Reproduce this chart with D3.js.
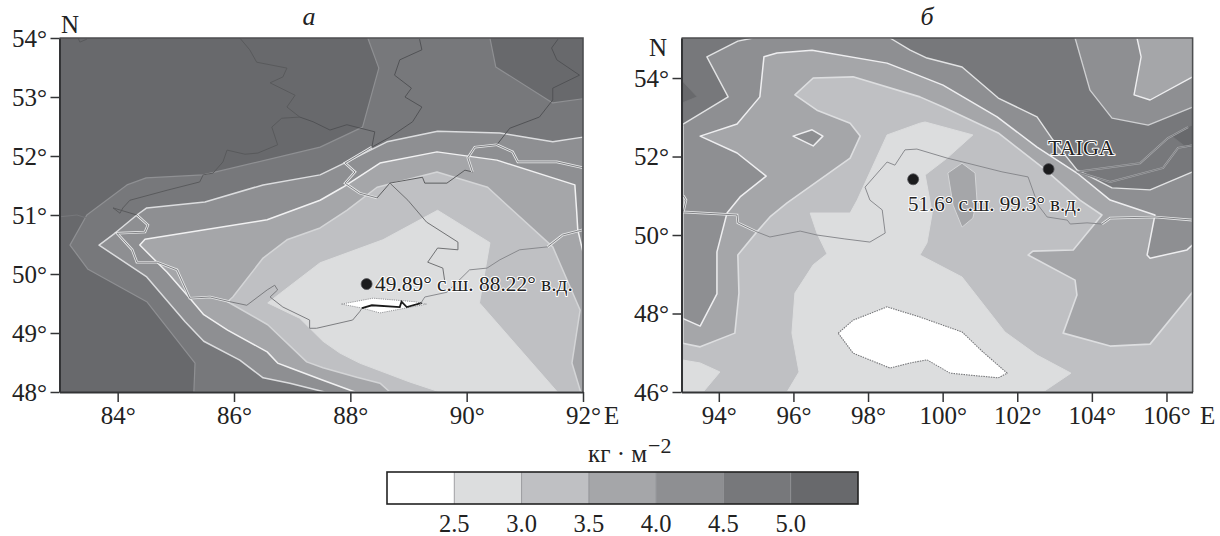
<!DOCTYPE html>
<html><head><meta charset="utf-8">
<script src="https://cdn.jsdelivr.net/npm/d3@7/dist/d3.min.js"></script>
<style>html,body{margin:0;padding:0;background:#fff}svg{display:block}text{font-family:"Liberation Serif",serif;fill:#222}</style>
</head><body><div id="chart"></div>
<script>
// ---------- levels / colours (kg m-2) ----------
const levelThresholds=[2.5,3.0,3.5,4.0,4.5,5.0];
const levelColors=["#ffffff","#dcddde","#bfc0c3","#a5a6a9","#8e8f92","#77787b","#68696c"];
const legendEdges=[2.0,2.5,3.0,3.5,4.0,4.5,5.0,5.5];
const legendTicks=[2.5,3.0,3.5,4.0,4.5,5.0];

// ---------- panel a: contour polygons [lon,lat] ----------
const aBand45=[[85.31,48],[85.33,48.49],[84.50,49.53],[83.49,50.08],[83.18,50.49],[83.47,51.00],[84.16,51.51],[84.49,51.63],[85.47,51.68],[87.48,52.15],[88.21,52.49],[88.49,53.49],[88.30,54],[90.40,54],[90.50,53.51],[91.48,52.90],[92,52.97],[92,48]];
const aBand40=[[87.56,48],[86.96,48.15],[86.50,48.24],[86.10,48.54],[85.48,48.86],[85.16,49.19],[84.50,49.95],[83.68,50.49],[83.95,50.69],[84.33,51.00],[84.50,51.12],[85.50,51.22],[86.50,51.51],[87.48,51.68],[87.94,51.90],[88.63,52.24],[89.50,52.42],[90.57,52.39],[91.48,52.24],[92,52.32],[92,48]];
const aBand35=[[88.08,48],[87.53,48.20],[86.96,48.41],[86.75,48.49],[86.57,48.68],[85.89,49.05],[85.48,49.31],[85.24,49.59],[84.85,50.03],[84.38,50.49],[84.47,50.59],[86.57,50.92],[87.48,51.25],[87.87,51.47],[88.51,51.88],[89.49,52.07],[90.52,51.93],[91.86,51.51],[91.89,51.08],[91.91,50.75],[92,50.37],[92,48]];
const aBand30=[[88.68,48],[88.51,48.15],[88.11,48.25],[87.53,48.41],[87.25,48.51],[86.58,49.14],[85.89,49.53],[85.98,49.61],[86.50,50.27],[86.91,50.58],[87.48,50.78],[87.94,51.08],[88.46,51.47],[89.49,51.73],[90.36,51.47],[90.79,51.08],[91.48,50.46],[91.95,49.39],[91.81,48.49],[91.96,48]];
const aBand25=[[87.48,50.19],[86.58,49.51],[87.13,49.25],[87.53,48.86],[87.82,48.66],[88.16,48.49],[89.02,48.17],[89.54,48],[91.56,48],[90.22,49.51],[90.40,50.53],[89.50,51.08],[88.56,50.58]];
const aBand20=[[87.85,49.49],[88.39,49.59],[89.11,49.53],[89.31,49.49],[88.51,49.34],[88.21,49.42]];

// ---------- panel a: borders [lon,lat] ----------
const aBorderNorth=[[86.10,54],[86.27,53.80],[86.39,53.59],[86.91,53.49],[86.84,53.34],[86.62,53.24],[87.05,53.03],[86.91,52.83],[87.13,52.66],[86.82,52.64],[86.65,52.49],[86.75,52.19],[86.41,52.05],[86.19,52.03],[85.88,52.10],[85.81,51.90],[85.64,51.71],[85.47,51.68],[85.41,51.56],[84.85,51.42],[84.21,51.25],[84.09,51.12],[84.04,51.03],[83.92,51.12],[84.33,51.00]];
const aBorderCorner=[[83.32,54],[83.35,53.93],[83.47,53.98]];
const aBorderWest=[[83.01,50.97],[83.30,51.00],[83.70,50.88],[83.99,50.75]];
const aBorderDoubleWest=[[84.33,51.00],[84.52,50.83],[84.47,50.71],[83.99,50.69],[84.25,50.41],[84.33,50.20],[84.68,50.20],[85.02,50.07],[85.24,49.59],[85.59,49.61],[85.93,49.53]];
const aBorderSouth=[[85.93,49.53],[86.22,49.47],[86.57,49.73],[86.70,49.81],[86.75,49.73],[86.62,49.61],[86.84,49.44],[87.30,49.22],[87.30,49.08],[87.42,49.08],[88.04,49.22],[88.16,49.36],[88.20,49.42]];
const aBorderLake=[[88.20,49.42],[88.37,49.47],[88.85,49.44],[88.88,49.53],[88.97,49.44],[89.23,49.51]];
const aBorderEast=[[89.19,49.47],[89.28,49.61],[89.66,49.69],[90.05,50.07],[90.35,50.10],[90.57,50.24],[90.91,50.41],[91.39,50.46],[91.65,50.66]];
const aBorderDoubleEast=[[91.39,50.46],[91.65,50.66],[92,50.75]];
const aBorderAltaiN=[[89.19,53.98],[89.23,53.80],[88.85,53.63],[88.76,53.37],[89.05,53.15],[88.94,53.00],[89.23,52.83],[89.07,52.58],[88.68,52.32],[88.37,52.15]];
const aBorderTop=[[87.13,52.66],[87.36,52.58],[87.65,52.44],[87.94,52.53],[88.42,52.41],[88.37,52.15]];
const aBorderDoubleMid=[[88.37,52.15],[87.91,51.88],[88.08,51.73],[87.91,51.54],[88.16,51.37],[88.46,51.29]];
const aBorderMid=[[88.46,51.29],[88.68,51.54],[89.24,51.64],[89.28,51.54],[89.66,51.54],[89.97,51.76],[90.10,51.73]];
const aBorderDoubleNE=[[90.10,51.73],[90.02,51.97],[90.14,52.15],[90.52,52.19]];
const aBorderNE=[[90.52,52.19],[90.74,52.47],[91.25,52.66],[91.48,52.95],[91.48,53.15],[91.94,53.37],[91.55,53.63],[91.46,53.83],[91.57,53.98]];
const aBorderDoubleE=[[90.52,52.19],[90.79,52.07],[90.88,51.90],[91.55,51.90],[92,51.80]];
const aBorderInner=[[88.68,51.54],[88.99,51.25],[89.31,50.88],[89.85,50.54],[89.85,50.41],[89.50,50.44],[89.33,50.20],[89.59,50.10],[89.62,49.90]];
const aStation=[88.28,49.83];

// ---------- panel b: contour polygons [lon,lat] ----------
const bBand50W=[[93,53.95],[93.42,53.52],[93,53.36]];
const bBand50E=[[106.10,52.55],[106.55,52.75],[106.70,52.80],[106.70,52.24],[106.55,52.22]];
const bBand40=[[93,52.80],[94.25,53.52],[93.68,54.54],[94.51,54.94],[94.92,55.02],[98.59,55.02],[99.13,54.71],[99.58,54.51],[100.52,54.28],[101.49,53.49],[102.53,53.01],[102.96,52.42],[103.60,51.66],[104.54,51.20],[105.56,51.15],[106.70,51.61],[106.70,46],[93,46]];
const bBand35=[[93,47.89],[93.50,47.68],[93.95,48.50],[93.95,49.57],[94.22,50.56],[94.57,50.97],[95.27,51.50],[94.49,52.09],[93.50,52.52],[94.49,52.83],[95.10,53.52],[95.21,54.54],[95.56,54.64],[96.50,54.71],[98.51,54.38],[99.13,54.15],[100.01,53.82],[101.46,53.01],[102.53,52.24],[103.60,51.58],[104.49,50.89],[105.69,50.51],[105.48,49.49],[105.56,49.41],[106.55,49.62],[106.70,49.75],[106.70,46],[93,46]];
const bIsland40=[[95.99,52.52],[96.50,52.68],[96.79,52.52],[96.53,52.27]];
const bBand30=[[93,47.25],[93.50,47.15],[94.43,47.50],[94.54,48.52],[94.51,49.49],[95.02,50.08],[95.37,50.46],[95.83,50.82],[97.52,51.96],[97.79,52.52],[97.52,52.85],[96.63,53.18],[96.04,53.57],[96.53,54.00],[97.60,54.03],[99.39,53.52],[100.01,53.26],[101.49,52.60],[102.69,51.71],[103.68,50.89],[104.27,50.51],[103.50,49.62],[102.42,49.59],[102.29,49.49],[103.55,48.85],[103.60,48.47],[103.23,47.50],[104.49,47.17],[105.56,47.22],[106.70,48.55],[106.70,46],[93,46]];
const bIsland35=[[100.14,51.58],[100.52,51.83],[100.87,51.58],[100.92,50.89],[100.81,50.43],[100.52,50.20],[100.28,50.76]];
const bBand25=[[96.45,50.56],[97.52,50.56],[97.71,50.89],[98.51,52.55],[99.39,52.85],[99.53,52.88],[100.81,52.55],[100.12,51.96],[99.53,51.53],[99.72,50.56],[99.58,49.80],[99.39,49.49],[100.52,48.93],[101.67,47.53],[102.53,46.94],[103.44,46.48],[102.69,46],[95.83,46],[96.15,46.51],[95.96,47.50],[96.04,48.52],[96.53,49.24],[96.90,49.52],[96.63,50.05]];
const bPatch25=[[93,46.82],[93.50,46.74],[94.03,46.51],[93.58,46],[93,46]];
const bLake=[[97.20,47.50],[97.60,47.83],[98.51,48.17],[99.39,47.91],[100.52,47.53],[101.08,47.02],[101.73,46.48],[101.49,46.36],[100.20,46.48],[99.58,46.82],[99.13,46.74],[98.59,46.61],[97.60,46.99]];
const bTopRight40=[[103.55,55.02],[103.95,53.69],[104.54,52.98],[105.51,52.80],[106.70,53.26],[106.70,55.02]];
const bTopRight35=[[105.21,55.02],[105.32,54.54],[105.13,53.57],[105.56,53.44],[106.70,54.03],[106.70,55.02]];

// ---------- panel b: borders / thin contours ----------
const bBorderDoubleW=[[93,50.59],[94.49,50.51],[94.51,50.31],[95.02,50.08]];
const bBorderEdge=[[93.05,50.6],[93.12,50.89],[93.05,51.0]];
const bEdgeContour=[[93.04,52.80],[93.04,47.25]];
const bBorderMain=[[95.02,50.08],[95.37,49.95],[96.18,50.10],[96.63,50.00],[97.38,49.90],[98.05,49.82],[98.46,50.05],[98.38,50.64],[98.05,50.89],[97.92,51.22],[98.51,51.86],[98.72,51.78],[98.99,52.17],[99.31,52.19],[100.12,51.96],[101.59,51.61],[102.29,51.48],[102.56,50.76],[102.80,50.46],[103.34,50.38],[103.42,50.28],[103.87,50.31],[104.27,50.28]];
const bBorderDoubleE=[[104.27,50.28],[104.49,50.43],[105.69,50.46],[106.70,50.38]];
const bThinA=[[103.60,51.61],[105.29,51.83],[106.04,52.47],[106.58,52.75]];
const bThinB=[[103.60,51.61],[104.49,51.35],[105.91,51.71],[106.31,52.22],[106.71,52.29]];
const bStation=[99.21,51.42];
const bTaiga=[102.84,51.68];

// ---------- axes / text ----------
const aLonTicks=[84,86,88,90,92], aLatTicks=[48,49,50,51,52,53,54];
const bLonTicks=[94,96,98,100,102,104,106], bLatTicks=[46,48,50,52,54];
const aLabel="49.89° с.ш. 88.22° в.д.", bLabel="51.6° с.ш. 99.3° в.д.", taigaLabel="TAIGA";

const W=1220,H=536;
const svg=d3.select("#chart").append("svg").attr("width",W).attr("height",H);
const colour=d3.scaleThreshold().domain(levelThresholds).range(levelColors);

function panel(id,xs,ys,baseLevel,layers,borders,lonT,latT){
  const g=svg.append("g");
  const line=d3.line().x(d=>xs(d[0])).y(d=>ys(d[1]));
  const clip="clip"+id;
  svg.append("clipPath").attr("id",clip).append("rect")
    .attr("x",xs.range()[0]).attr("y",ys.range()[1])
    .attr("width",xs.range()[1]-xs.range()[0]).attr("height",ys.range()[0]-ys.range()[1]);
  const c=g.append("g").attr("clip-path",`url(#${clip})`);
  const m=c.append("g").style("filter","blur(0.4px)");
  m.append("rect").attr("x",xs.range()[0]-3).attr("y",ys.range()[1]-3)
    .attr("width",xs.range()[1]-xs.range()[0]+6).attr("height",ys.range()[0]-ys.range()[1]+6)
    .attr("fill",colour(baseLevel));
  m.selectAll("path.band").data(layers).join("path").attr("class","band")
    .attr("d",d=>line(d.pts)+"Z").attr("fill",d=>colour(d.level))
    .attr("stroke",d=>d.edge).attr("stroke-width",d=>d.w).attr("stroke-linejoin","round")
    .attr("stroke-dasharray",d=>d.dash||null);
  borders.forEach(b=>{
    if(b.kind==="double"){
      m.append("path").attr("d",line(b.pts)).attr("fill","none").attr("stroke","#e6e7e8").attr("stroke-width",2.6);
      m.append("path").attr("d",line(b.pts)).attr("fill","none").attr("stroke","#76777a").attr("stroke-width",0.9);
    }else if(b.kind==="thin"){
      m.append("path").attr("d",line(b.pts)).attr("fill","none").attr("stroke","#a8a9ac").attr("stroke-width",2);
      m.append("path").attr("d",line(b.pts)).attr("fill","none").attr("stroke","#6c6d70").attr("stroke-width",0.7);
    }else if(b.kind==="lake"){
      m.append("path").attr("d",line(b.pts)).attr("fill","none").attr("stroke","#1a1a1a").attr("stroke-width",1.8);
    }else if(b.kind==="edge"){
      m.append("path").attr("d",line(b.pts)).attr("fill","none").attr("stroke","#dedfe0").attr("stroke-width",1.4);
    }else{
      m.append("path").attr("d",line(b.pts)).attr("fill","none").attr("stroke",b.colour||"#57585b").attr("stroke-width",0.95);
    }
  });
  // frame
  g.append("path").attr("d",d3.line()([[xs.range()[0],ys.range()[1]],[xs.range()[1],ys.range()[1]],[xs.range()[1],ys.range()[0]]]))
    .attr("fill","none").attr("stroke","#4d4e50").attr("stroke-width",1.6);
  const fmt=d=>d+"°";
  const ax=g.append("g").attr("transform",`translate(0,${ys.range()[0]})`)
    .call(d3.axisBottom(xs).tickValues(lonT).tickFormat(fmt).tickSize(10).tickPadding(4).tickSizeOuter(0));
  const ay=g.append("g").attr("transform",`translate(${xs.range()[0]},0)`)
    .call(d3.axisLeft(ys).tickValues(latT).tickFormat(fmt).tickSize(9).tickPadding(3.5).tickSizeOuter(0));
  [ax,ay].forEach(a=>{
    a.selectAll("path").attr("stroke","#333436").attr("stroke-width",2);
    a.selectAll("line").attr("stroke","#333436").attr("stroke-width",1.5);
    a.selectAll("text").attr("font-family","Liberation Serif").attr("font-size",25).attr("fill","#222");
  });
  return {xs,ys,g};
}

const layersA=[
 {pts:aBand45,level:4.75,edge:"#8f9093",w:1.2},
 {pts:aBand40,level:4.25,edge:"#dcdddf",w:1.5},
 {pts:aBand35,level:3.75,edge:"#f1f1f2",w:1.5},
 {pts:aBand30,level:3.25,edge:"#d4d5d7",w:1.5},
 {pts:aBand25,level:2.75,edge:"#dcddde",w:1},
 {pts:aBand20,level:2.25,edge:"#8a8b8e",w:0.9,dash:"1.2 1"}
];
const bordersA=[
 {pts:aBorderNorth},{pts:aBorderCorner},{pts:aBorderWest,colour:"#77787b"},
 {pts:aBorderDoubleWest,kind:"double"},{pts:aBorderSouth,colour:"#77787b"},{pts:aBorderLake,kind:"lake"},
 {pts:aBorderEast,colour:"#85868a"},{pts:aBorderDoubleEast,kind:"double"},{pts:aBorderAltaiN,colour:"#4f5053"},
 {pts:aBorderTop,colour:"#4f5053"},{pts:aBorderDoubleMid,kind:"double"},{pts:aBorderMid,colour:"#56575a"},
 {pts:aBorderDoubleNE,kind:"double"},{pts:aBorderNE,colour:"#4f5053"},{pts:aBorderDoubleE,kind:"double"},
 {pts:aBorderInner,colour:"#6a6b6e"}
];
const layersB=[
 {pts:bBand50W,level:5.25,edge:"#77787b",w:0.8},
 {pts:bBand50E,level:5.25,edge:"#77787b",w:0.8},
 {pts:bBand40,level:4.25,edge:"#e2e3e4",w:1.4},
 {pts:bTopRight40,level:4.25,edge:"#cfd0d2",w:1.3},
 {pts:bTopRight35,level:3.75,edge:"#eeeef0",w:1.4},
 {pts:bBand35,level:3.75,edge:"#eeeef0",w:1.5},
 {pts:bIsland40,level:4.25,edge:"#eeeef0",w:1.5},
 {pts:bBand30,level:3.25,edge:"#dddee0",w:1.6},
 {pts:bIsland35,level:3.75,edge:"#d4d5d7",w:1},
 {pts:bBand25,level:2.75,edge:"#dcddde",w:1},
 {pts:bPatch25,level:2.75,edge:"#dcddde",w:1},
 {pts:bLake,level:2.25,edge:"#77787b",w:1.1,dash:"1.5 1"}
];
const bordersB=[
 {pts:bEdgeContour,kind:"edge"},
 {pts:bBorderDoubleW,kind:"double"},{pts:bBorderEdge,kind:"double"},{pts:bBorderMain,colour:"#85868a"},
 {pts:bBorderDoubleE,kind:"double"},{pts:bThinA,kind:"thin"},{pts:bThinB,kind:"thin"}
];

const A=panel("A",d3.scaleLinear().domain([83,92]).range([59.5,583]),d3.scaleLinear().domain([48,54]).range([392,38]),5.25,layersA,bordersA,aLonTicks,aLatTicks);
const B=panel("B",d3.scaleLinear().domain([93,106.7]).range([681.5,1192.6]),d3.scaleLinear().domain([46,55.02]).range([392,38]),4.75,layersB,bordersB,bLonTicks,bLatTicks);

function txt(x,y,s,size,opt={}){
  return svg.append("text").attr("x",x).attr("y",y).text(s).attr("font-size",size)
    .attr("text-anchor",opt.anchor||"start").attr("font-style",opt.italic?"italic":"normal");
}
function station(P,pos,r){
  svg.append("circle").attr("cx",P.xs(pos[0])).attr("cy",P.ys(pos[1])).attr("r",r).attr("fill","#1b1b1d")
    .attr("stroke","#55565a").attr("stroke-width",0.8);
}
station(A,aStation,5.5); station(B,bStation,5.5); station(B,bTaiga,5.5);
[[375,291,aLabel,21.4],[908,211,bLabel,21]].forEach(d=>{
  txt(d[0],d[1],d[2],d[3]).attr("stroke","#fff").attr("stroke-width",2).attr("paint-order","stroke").attr("stroke-linejoin","round");
});
txt(1048,155,taigaLabel,22).attr("stroke","#fff").attr("stroke-width",2).attr("paint-order","stroke").attr("stroke-linejoin","round");

txt(61,32.5,"N",25); txt(649,56,"N",25);
txt(604,424,"E",25); txt(1200,424,"E",25);
txt(309,25,"а",26,{anchor:"middle",italic:true});
txt(927,25,"б",26,{anchor:"middle",italic:true});

// legend
const lx=d3.scaleLinear().domain([2.0,5.5]).range([387,858]);
const ly=[472,504];
const lg=svg.append("g");
lg.selectAll("rect").data(d3.pairs(legendEdges)).join("rect")
  .attr("x",d=>lx(d[0])).attr("y",ly[0]).attr("width",d=>lx(d[1])-lx(d[0])).attr("height",ly[1]-ly[0])
  .attr("fill",d=>colour((d[0]+d[1])/2));
lg.selectAll("line").data(legendTicks).join("line")
  .attr("x1",d=>lx(d)).attr("x2",d=>lx(d)).attr("y1",ly[0]).attr("y2",ly[1]).attr("stroke","#8c8d90").attr("stroke-width",0.8);
lg.append("rect").attr("x",lx(2.0)).attr("y",ly[0]).attr("width",lx(5.5)-lx(2.0)).attr("height",ly[1]-ly[0])
  .attr("fill","none").attr("stroke","#222").attr("stroke-width",1.6);
lg.selectAll("text").data(legendTicks).join("text")
  .attr("x",d=>lx(d)).attr("y",532).attr("text-anchor","middle").attr("font-size",24.5).text(d=>d.toFixed(1));
txt(588,462,"кг · м",25);
txt(648,453,"−2",22);
</script></body></html>
